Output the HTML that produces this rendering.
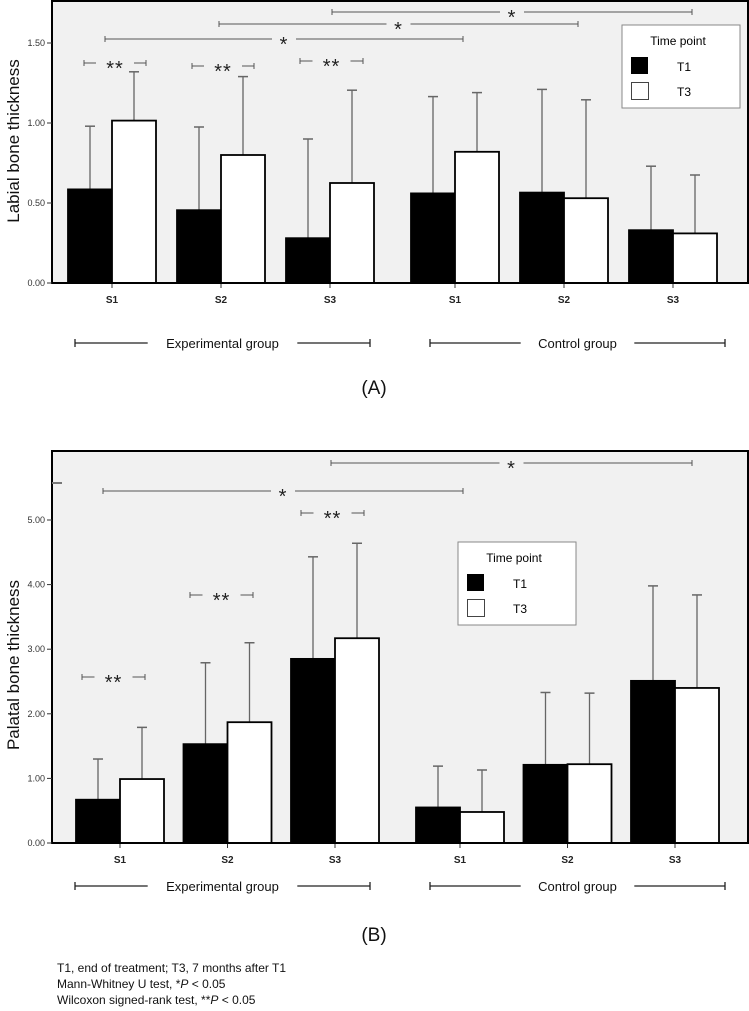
<!DOCTYPE html>
<html><head><meta charset="utf-8">
<style>
body{margin:0;background:#fff;width:749px;height:1011px;overflow:hidden;font-family:"Liberation Sans",Arial,sans-serif}
svg{display:block}
.foot{position:absolute;left:57px;font-size:12px;color:#111}
</style></head><body>
<svg id="svg" width="749" height="1011" style="position:absolute;left:0;top:0"></svg>
<div class="foot" style="top:961px">T1, end of treatment; T3, 7 months after T1</div>
<div class="foot" style="top:977px">Mann-Whitney U test, *<i>P</i> &lt; 0.05</div>
<div class="foot" style="top:993px">Wilcoxon signed-rank test, **<i>P</i> &lt; 0.05</div>
<script>
const categories = ["S1","S2","S3","S1","S2","S3"];
const labialT1 = [0.585,0.455,0.28,0.56,0.565,0.33];
const labialT1Err = [0.98,0.975,0.90,1.165,1.21,0.73];
const labialT3 = [1.015,0.80,0.625,0.82,0.53,0.31];
const labialT3Err = [1.32,1.29,1.205,1.19,1.145,0.675];
const labialTicks = [0,0.5,1.0,1.5];
const palatalT1 = [0.67,1.53,2.85,0.55,1.21,2.51];
const palatalT1Err = [1.30,2.79,4.43,1.19,2.33,3.98];
const palatalT3 = [0.99,1.87,3.17,0.48,1.22,2.40];
const palatalT3Err = [1.79,3.10,4.64,1.13,2.32,3.84];
const palatalTicks = [0,1,2,3,4,5];

const NS="http://www.w3.org/2000/svg";
const svg=document.getElementById('svg');
function el(tag,attrs,parent,text){const e=document.createElementNS(NS,tag);for(const k in attrs)e.setAttribute(k,attrs[k]);if(text!==undefined)e.textContent=text;(parent||svg).appendChild(e);return e;}

function chart(cfg){
  const g=el('g',{});
  
  
  const y=v=>cfg.y0-v*cfg.ppu;
  const x=i=>cfg.start+i*cfg.step+(i>=3?cfg.extra:0);
  const bg=el('rect',{x:52,y:cfg.top,width:696,height:cfg.y0-cfg.top,fill:'#f1f1f1',stroke:'#000','stroke-width':2},g);
  
  
  cfg.ticks.forEach(t=>{
    el('line',{x1:47,x2:52,y1:y(t),y2:y(t),stroke:'#333'},g);
    const tl=el('text',{x:45,y:y(t)+3,'font-size':9,'text-anchor':'end',fill:'#333'},g,t.toFixed(2));
    
    
  });
  const yt=el('text',{transform:`translate(19,${cfg.titleY}) rotate(-90)`,'font-size':17,'text-anchor':'middle',fill:'#111'},g,cfg.title);
  
  
  const W=44;
  categories.forEach((c,i)=>{
    const xb=x(i);
    [[cfg.t1,cfg.t1e,'#000',0],[cfg.t3,cfg.t3e,'#fff',W]].forEach(([vals,errs,fill,off],k)=>{
      const cx=xb+off+W/2;
      el('line',{x1:cx,x2:cx,y1:y(vals[i]),y2:y(errs[i]),stroke:'#666','stroke-width':1.3},g);
      el('line',{x1:cx-5,x2:cx+5,y1:y(errs[i]),y2:y(errs[i]),stroke:'#666','stroke-width':1.5},g);
      const r=el('rect',{x:xb+off,y:y(vals[i]),width:W,height:vals[i]*cfg.ppu,fill:fill,stroke:'#000','stroke-width':1.8},g);
      
      
    });
    el('line',{x1:xb+W,x2:xb+W,y1:cfg.y0,y2:cfg.y0+5,stroke:'#333'},g);
    const cl=el('text',{x:xb+W,y:cfg.y0+20,'font-size':10,'font-weight':'bold','text-anchor':'middle',fill:'#222'},g,c);
    
    
  });
  el('line',{x1:52,x2:748,y1:cfg.y0,y2:cfg.y0,stroke:'#000','stroke-width':2},g);
  cfg.brackets.forEach(b=>{
    const [x1,x2,yy,txt]=b;const m=(x1+x2)/2;const hw=txt.length*7+5;
    el('line',{x1:x1,x2:m-hw,y1:yy,y2:yy,stroke:'#555'},g);
    el('line',{x1:m+hw,x2:x2,y1:yy,y2:yy,stroke:'#555'},g);
    el('line',{x1:x1,x2:x1,y1:yy-3,y2:yy+3,stroke:'#555'},g);
    el('line',{x1:x2,x2:x2,y1:yy-3,y2:yy+3,stroke:'#555'},g);
    const s=el('text',{x:m,y:yy+12,'font-size':20,'text-anchor':'middle',fill:'#222','letter-spacing':'1'},g,txt);
    
    
  });
  const L=cfg.legend;
  const lg=el('g',{},g);
  
  
  el('rect',{x:L[0],y:L[1],width:118,height:83,fill:'#fff',stroke:'#888'},lg);
  el('text',{x:L[0]+56,y:L[1]+20,'font-size':12,'text-anchor':'middle'},lg,'Time point');
  el('rect',{x:L[0]+9,y:L[1]+32,width:17,height:17,fill:'#000'},lg);
  el('text',{x:L[0]+62,y:L[1]+46,'font-size':12,'text-anchor':'middle'},lg,'T1');
  el('rect',{x:L[0]+9.5,y:L[1]+57.5,width:17,height:17,fill:'#fff',stroke:'#444'},lg);
  el('text',{x:L[0]+62,y:L[1]+71,'font-size':12,'text-anchor':'middle'},lg,'T3');
  [[75,370,'Experimental group'],[430,725,'Control group']].forEach(([a,b,t])=>{
    const m=(a+b)/2,hw=t.length*3.6+10,yy=cfg.groupY;
    el('line',{x1:a,x2:m-hw,y1:yy,y2:yy,stroke:'#222','stroke-width':1.3},g);
    el('line',{x1:m+hw,x2:b,y1:yy,y2:yy,stroke:'#222','stroke-width':1.3},g);
    el('line',{x1:a,x2:a,y1:yy-4,y2:yy+4,stroke:'#222','stroke-width':1.3},g);
    el('line',{x1:b,x2:b,y1:yy-4,y2:yy+4,stroke:'#222','stroke-width':1.3},g);
    const gl=el('text',{x:m,y:yy+5,'font-size':13,'text-anchor':'middle',fill:'#111'},g,t);
    
    
  });
  const p=el('text',{x:374,y:cfg.panelY,'font-size':19,'text-anchor':'middle',fill:'#111'},g,cfg.panel);
  
  
}
chart({name:'labial-chart',top:1,y0:283,ppu:160,start:68,step:109,extra:16,ticks:labialTicks,
  t1:labialT1,t1e:labialT1Err,t3:labialT3,t3e:labialT3Err,title:'Labial bone thickness',titleY:141,
  brackets:[[84,146,63,'**'],[192,254,66,'**'],[300,363,61,'**'],[105,463,39,'*'],[219,578,24,'*'],[332,692,12,'*']],
  legend:[622,25],groupY:343,panel:'(A)',panelY:394});
chart({name:'palatal-chart',top:451,y0:843,ppu:64.6,start:76,step:107.5,extra:17.5,ticks:palatalTicks,
  t1:palatalT1,t1e:palatalT1Err,t3:palatalT3,t3e:palatalT3Err,title:'Palatal bone thickness',titleY:665,
  brackets:[[82,145,677,'**'],[190,253,595,'**'],[301,364,513,'**'],[103,463,491,'*'],[331,692,463,'*']],
  legend:[458,542],groupY:886,panel:'(B)',panelY:941});
el('line',{x1:52,x2:62,y1:483,y2:483,stroke:'#777','stroke-width':2});
</script>
</body></html>
